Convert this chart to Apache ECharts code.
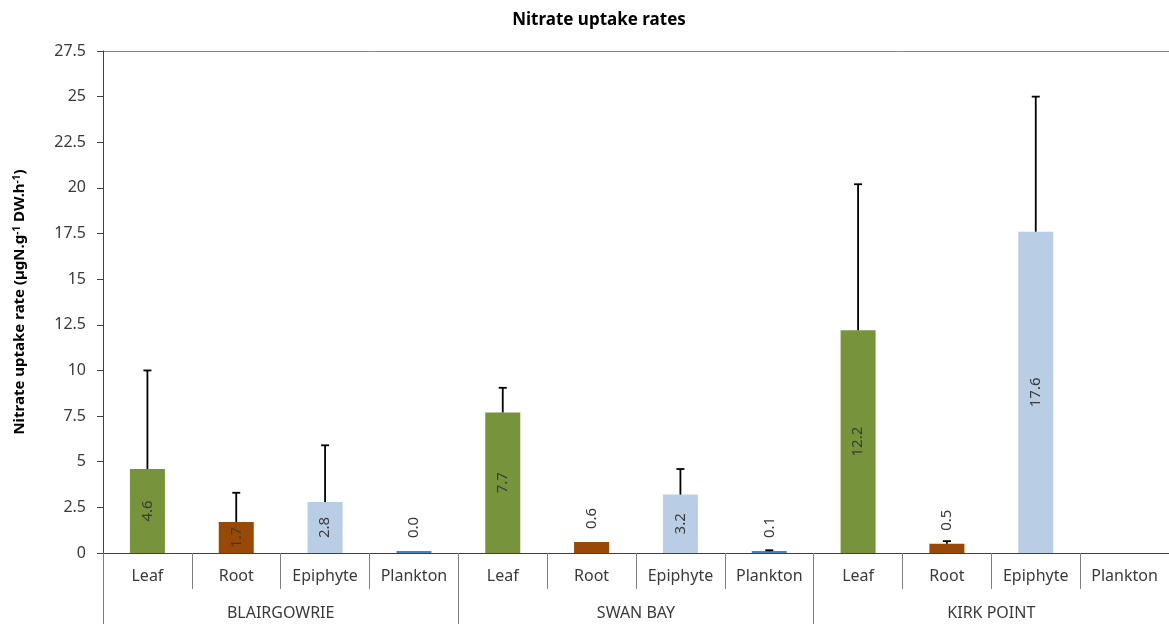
<!DOCTYPE html>
<html>
<head>
<meta charset="utf-8">
<script src="https://cdn.jsdelivr.net/npm/echarts@6/dist/echarts.min.js"></script>
<style>
  html, body { margin: 0; padding: 0; background: #ffffff; }
  #chart { width: 1169px; height: 624px; }
</style>
</head>
<body>
<div id="chart"></div>
<script>
// Sites (outer axis level) and tissue components (inner axis level)
const sites = ['BLAIRGOWRIE', 'SWAN BAY', 'KIRK POINT'];
const components = ['Leaf', 'Root', 'Epiphyte', 'Plankton'];

// Mean nitrate uptake rate per site/component, in site order then component order
const uptakeRates = [
  4.6, 1.7, 2.8, 0.0,
  7.7, 0.6, 3.2, 0.1,
  12.2, 0.5, 17.6, null
];

// Upper end of each error bar (null = no error bar drawn)
const errorUpper = [
  10.0, 3.3, 5.9, null,
  9.05, null, 4.6, 0.15,
  20.2, 0.65, 25.0, null
];

// Y axis range and step
const yMin = 0;
const yMax = 27.5;
const yStep = 2.5;

const FONT = '"Noto Sans", "Open Sans", sans-serif';
const TEXT = '#3a3a3a';
const componentColors = {
  Leaf: '#77933C',
  Root: '#984807',
  Epiphyte: '#B9CDE5',
  Plankton: '#4F81BD'
};

// One category per site/component pair
const categories = [];
sites.forEach(s => components.forEach(c => categories.push(s + '|' + c)));

const barData = uptakeRates.map((v, i) => {
  const comp = categories[i].split('|')[1];
  if (v === null) return null;
  const small = v < 1;
  return {
    value: v,
    itemStyle: { color: componentColors[comp] },
    label: small
      ? { position: 'top', distance: 13, align: 'left', verticalAlign: 'middle' }
      : { position: 'inside', align: 'center', verticalAlign: 'middle' }
  };
});

const errData = [];
errorUpper.forEach((hi, i) => {
  if (hi !== null && uptakeRates[i] !== null) errData.push([i, uptakeRates[i], hi]);
});

// 12 split lines; only the top one (27.5) is drawn as the plot border
const nLines = Math.round((yMax - yMin) / yStep) + 1;
const splitColors = Array.from({ length: nLines }, (_, k) => k === nLines - 1 ? '#868686' : 'rgba(0,0,0,0)');

const chart = echarts.init(document.getElementById('chart'), null, { renderer: 'canvas' });

chart.setOption({
  animation: false,
  backgroundColor: '#ffffff',
  textStyle: { fontFamily: FONT },
  title: {
    text: 'Nitrate uptake rates',
    left: 594,
    textAlign: 'center',
    top: 7,
    textStyle: { fontFamily: FONT, fontSize: 17, fontWeight: 'bold', color: '#000000' }
  },
  grid: { left: 103, right: 0, top: 51, bottom: 71, containLabel: false },
  xAxis: [
    {
      type: 'category',
      data: categories,
      boundaryGap: true,
      axisLine: { show: true, lineStyle: { color: '#404040', width: 1 } },
      axisTick: { show: true, interval: 0, length: 36, lineStyle: { color: '#7f7f7f', width: 1 } },
      axisLabel: {
        interval: 0, margin: 15, fontSize: 16, color: TEXT, fontFamily: FONT,
        formatter: v => v.split('|')[1]
      },
      splitLine: { show: false }
    },
    {
      type: 'category',
      data: sites,
      position: 'bottom',
      offset: 0,
      boundaryGap: true,
      axisLine: { show: false },
      axisTick: { show: true, interval: 0, length: 80, lineStyle: { color: '#7f7f7f', width: 1 } },
      axisLabel: { interval: 0, margin: 52, fontSize: 16, color: TEXT, fontFamily: FONT },
      splitLine: { show: false }
    }
  ],
  yAxis: {
    type: 'value',
    min: yMin,
    max: yMax,
    interval: yStep,
    name: 'Nitrate uptake rate (µgN.g{sup|-1} DW.h{sup|-1})',
    nameLocation: 'middle',
    nameGap: 76,
    nameTextStyle: {
      fontFamily: FONT, fontSize: 15, fontWeight: 'bold', color: '#000000',
      rich: {
        sup: { fontFamily: FONT, fontSize: 10, fontWeight: 'bold', color: '#000000', verticalAlign: 'top', lineHeight: 10 }
      }
    },
    axisLine: { show: true, lineStyle: { color: '#404040', width: 1 } },
    axisTick: { show: true, length: 6, lineStyle: { color: '#404040' } },
    axisLabel: { margin: 17, fontSize: 16, color: TEXT, fontFamily: FONT },
    splitLine: { show: true, lineStyle: { color: splitColors, width: 1 } }
  },
  series: [
    {
      type: 'bar',
      xAxisIndex: 0,
      data: barData,
      barWidth: 35,
      barMinHeight: 2,
      label: {
        show: true,
        rotate: 90,
        fontSize: 15,
        fontFamily: FONT,
        color: TEXT,
        formatter: p => p.value.toFixed(1)
      },
      z: 2
    },
    {
      type: 'custom',
      xAxisIndex: 0,
      data: errData,
      z: 3,
      renderItem: (params, api) => {
        const x = api.value(0);
        const p0 = api.coord([x, api.value(1)]);
        const p1 = api.coord([x, api.value(2)]);
        const half = 4;
        const style = { stroke: '#000000', lineWidth: 1.8 };
        return {
          type: 'group',
          children: [
            { type: 'line', shape: { x1: p0[0], y1: p0[1], x2: p1[0], y2: p1[1] }, style },
            { type: 'line', shape: { x1: p1[0] - half, y1: p1[1], x2: p1[0] + half, y2: p1[1] }, style }
          ]
        };
      }
    }
  ]
});
</script>
</body>
</html>
